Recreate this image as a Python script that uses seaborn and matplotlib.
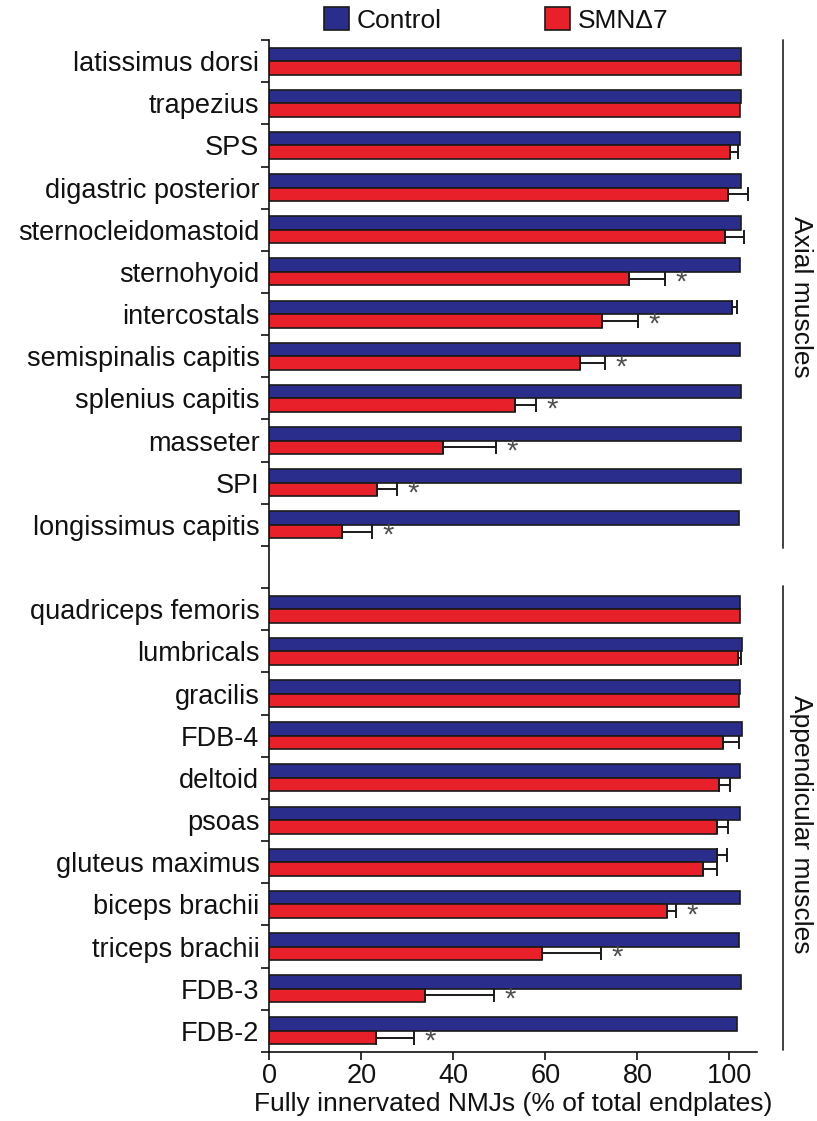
import numpy as np
import matplotlib.pyplot as plt
import seaborn as sns
import pandas as pd

axial = ["latissimus dorsi", "trapezius", "SPS", "digastric posterior",
         "sternocleidomastoid", "sternohyoid", "intercostals",
         "semispinalis capitis", "splenius capitis", "masseter", "SPI",
         "longissimus capitis"]
appendicular = ["quadriceps femoris", "lumbricals", "gracilis", "FDB-4",
                "deltoid", "psoas", "gluteus maximus", "biceps brachii",
                "triceps brachii", "FDB-3", "FDB-2"]
muscles = axial + appendicular

control = [102.5, 102.5, 102.3, 102.5, 102.5, 102.3, 100.6, 102.3, 102.5, 102.5, 102.5, 102.0,
           102.3, 102.7, 102.3, 102.7, 102.3, 102.3, 97.3, 102.3, 102.0, 102.5, 101.7]
control_err = [0, 0, 0, 0, 0, 0, 1.1, 0, 0, 0, 0, 0,
               0, 0, 0, 0, 0, 0, 2.1, 0, 0, 0, 0]
smn = [102.5, 102.4, 100.2, 99.8, 99.1, 78.1, 72.3, 67.5, 53.5, 37.7, 23.4, 15.9,
       102.3, 101.9, 102.0, 98.5, 97.7, 97.3, 94.2, 86.4, 59.3, 33.9, 23.2]
smn_err = [0, 0, 1.7, 4.3, 4.0, 7.9, 7.9, 5.5, 4.5, 11.5, 4.4, 6.4,
           0, 0.7, 0, 3.5, 2.5, 2.5, 3.1, 2.1, 12.7, 15.0, 8.2]
significant = [False, False, False, False, False, True, True, True, True, True, True, True,
               False, False, False, False, False, False, False, True, True, True, True]

GROUPS = ["Control", "SMN\u03947"]
COLORS = ["#2b2d8c", "#e8202a"]
GAP = " "
order = axial + [GAP] + appendicular

df = pd.DataFrame({
    "muscle": muscles * 2,
    "group": [GROUPS[0]] * len(muscles) + [GROUPS[1]] * len(muscles),
    "value": control + smn,
})

sns.set_style("ticks", {"text.color": "#111111", "axes.labelcolor": "#111111",
                        "xtick.color": "#111111", "ytick.color": "#111111",
                        "axes.edgecolor": "#111111"})
plt.rcParams["font.family"] = ["Liberation Sans", "DejaVu Sans"]

fig, ax = plt.subplots(figsize=(8.17, 11.21), dpi=100)
fig.subplots_adjust(left=0.3295, right=0.9266, top=0.9643, bottom=0.0616)

sns.barplot(df, y="muscle", x="value", hue="group", order=order,
            hue_order=GROUPS, palette=COLORS, orient="h", width=0.64,
            errorbar=None, edgecolor="#1a1a1a", linewidth=1.2, saturation=1,
            ax=ax)

# error bars (one-sided, SEM) and significance stars
bw = 0.64 / 2
for i, m in enumerate(muscles):
    pos = order.index(m)
    for val, err, off in [(control[i], control_err[i], -bw / 2), (smn[i], smn_err[i], bw / 2)]:
        if err > 0:
            ax.errorbar(val, pos + off, xerr=[[0], [err]], fmt="none",
                        ecolor="#1a1a1a", elinewidth=1.4, capsize=5, capthick=1.4)
    if significant[i]:
        ax.text(smn[i] + smn_err[i] + 3.5, pos + bw / 2 + 0.1, "*", ha="center",
                va="center", fontsize=21, color="#505050")

ax.set_xlim(0, 106)
ax.set_ylim(len(order) - 0.5, -0.5)
ax.set_xticks([0, 20, 40, 60, 80, 100])
ax.tick_params(axis="x", labelsize=19.5, length=6, width=1.2, pad=2)
bounds = np.arange(-0.5, len(order))
ax.set_yticks(bounds, labels=[""] * len(bounds))
ax.set_yticks(np.arange(len(order)), labels=order, minor=True)
ax.tick_params(axis="y", which="major", length=6, width=1.2)
ax.tick_params(axis="y", which="minor", length=0, labelsize=19.5, pad=7)
ax.set_xlabel("Fully innervated NMJs (% of total endplates)", fontsize=19, labelpad=2)
ax.set_ylabel("")
sns.despine(ax=ax)
for s in ["left", "bottom"]:
    ax.spines[s].set_linewidth(1.2)

# group brackets on the right
bx = 111.7
ax.plot([bx, bx], [-0.5, 11.55], color="#333333", lw=1.3, clip_on=False)
ax.plot([bx, bx], [12.45, 23.45], color="#333333", lw=1.3, clip_on=False)
ax.text(115.6, 5.6, "Axial muscles", rotation=270, ha="center", va="center",
        fontsize=19, clip_on=False)
ax.text(115.6, 18.1, "Appendicular muscles", rotation=270, ha="center", va="center",
        fontsize=19, clip_on=False)

handles, labels = ax.get_legend_handles_labels()
ax.get_legend().remove()
fig.legend(handles, labels, loc="center left", bbox_to_anchor=(324 / 817, 1 - 20 / 1121),
           ncol=2, frameon=False, fontsize=19, handlelength=0.95, handleheight=0.95,
           handletextpad=0.3, columnspacing=3.9, borderpad=0, borderaxespad=0)

plt.savefig("out.png", dpi=100)
